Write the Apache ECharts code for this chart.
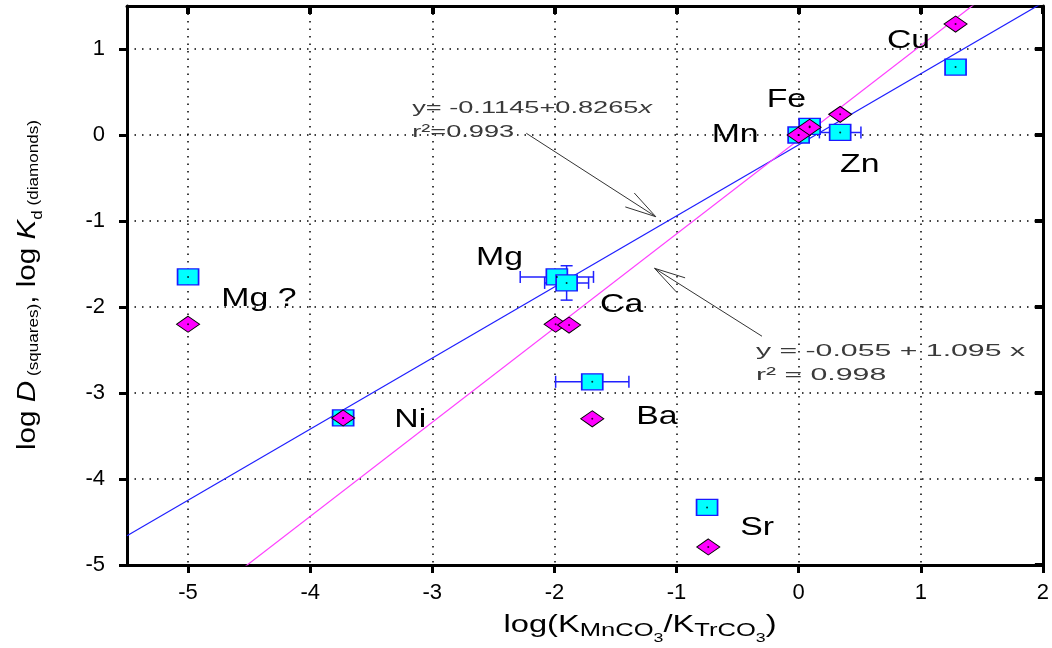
<!DOCTYPE html>
<html>
<head>
<meta charset="utf-8">
<script src="https://cdn.jsdelivr.net/npm/echarts@6/dist/echarts.min.js"></script>
<style>
  html, body { margin: 0; padding: 0; background: #fff; }
  #chart { width: 1052px; height: 648px; }
</style>
</head>
<body>
<div id="chart"></div>
<script>
// Trace-element carbonate partitioning vs. solubility-product ratio
const elements = ['Mg ?', 'Ni', 'Mg', 'Ca', 'Ba', 'Sr', 'Mn', 'Fe', 'Zn', 'Cu'];

// squares: log D
const squareX = [-5.00, -3.73, -1.98, -1.90, -1.69, -0.75, 0.00, 0.09, 0.34, 1.285];
const squareY = [-1.65, -3.29, -1.65, -1.72, -2.87, -4.33, 0.00, 0.10, 0.03, 0.79];
const squareXErr = [0, 0, 0.30, 0.18, 0.30, 0, 0, 0, 0.17, 0];
const squareYErr = [0, 0, 0, 0.20, 0, 0, 0, 0, 0, 0];

// diamonds: log Kd
const diamondX = [-5.00, -3.73, -1.99, -1.88, -1.69, -0.74, 0.00, 0.09, 0.34, 1.285];
const diamondY = [-2.20, -3.29, -2.20, -2.21, -3.30, -4.79, 0.00, 0.09, 0.24, 1.29];

// regression lines y = a + b x (squares, diamonds)
const fitIntercept = [-0.1145, -0.055];
const fitSlope = [0.8265, 1.095];
const fitR2 = ['0.993', '0.998'];

// axis ticks
const xTicks = [-5, -4, -3, -2, -1, 0, 1, 2];
const yTicks = [-5, -4, -3, -2, -1, 0, 1];
const xRange = [-5.5, 2];
const yRange = [-5, 1.5];

// annotation anchors (data coordinates)
const labelX = [-4.42, -3.18, -2.45, -1.45, -1.16, -0.34, -0.52, -0.10, 0.50, 0.90];
const labelY = [-1.90, -3.31, -1.43, -1.98, -3.28, -4.57, 0.00, 0.41, -0.35, 1.10];
const arrowFrom = [[-2.23, 0.02], [-0.30, -2.34]];
const arrowTo = [[-1.17, -0.95], [-1.18, -1.55]];
const eqAnchor = [[-3.165, 0.174], [-0.35, -2.66]];

const FONT = '"Liberation Sans", Arial, sans-serif';
const TEXT = '#000';

const fitLines = fitIntercept.map((a, i) =>
  xRange.map(x => [x, a + fitSlope[i] * x]));

const squares = squareX.map((x, i) => [x, squareY[i]]);
const diamonds = diamondX.map((x, i) => [x, diamondY[i]]);
const errData = squareX.map((x, i) => [x, squareY[i], squareXErr[i], squareYErr[i]]);

const chart = echarts.init(document.getElementById('chart'), null, { renderer: 'canvas' });

const gridLine = { show: true, lineStyle: { color: '#000', width: 1.5, type: [1.5, 6] } };
const frameLine = { show: true, onZero: false, lineStyle: { color: '#000', width: 3 } };

// rich-text token: top-aligned, shifted down by `drop` px (used for subscripts)
const tok = (size, drop, extra) => Object.assign(
  { fontSize: size, verticalAlign: 'top', padding: [drop, 0, 0, 0], fontFamily: FONT, fill: TEXT, color: TEXT },
  extra || {});

const option = {
  animation: false,
  backgroundColor: '#fff',
  grid: { left: 127, right: 7, top: 6, bottom: 83 },
  xAxis: [
    {
      type: 'value', position: 'bottom', min: xRange[0], max: xRange[1],
      axisLine: frameLine,
      axisTick: { show: true, inside: false, length: 8, customValues: xTicks, lineStyle: { color: '#000', width: 3 } },
      axisLabel: { customValues: xTicks, color: TEXT, fontSize: 22, fontFamily: FONT, margin: 17 },
      splitLine: gridLine
    },
    {
      type: 'value', position: 'top', min: xRange[0], max: xRange[1],
      axisLine: frameLine,
      axisTick: { show: true, inside: true, length: 8, customValues: xTicks, lineStyle: { color: '#000', width: 4 } },
      axisLabel: { show: false },
      splitLine: { show: false }
    }
  ],
  yAxis: [
    {
      type: 'value', position: 'left', min: yRange[0], max: yRange[1],
      axisLine: frameLine,
      axisTick: { show: true, inside: false, length: 8, customValues: yTicks, lineStyle: { color: '#000', width: 3 } },
      axisLabel: { customValues: yTicks, color: TEXT, fontSize: 22, fontFamily: FONT, margin: 22 },
      splitLine: gridLine
    },
    {
      type: 'value', position: 'right', min: yRange[0], max: yRange[1],
      axisLine: frameLine,
      axisTick: { show: true, inside: true, length: 8, customValues: yTicks, lineStyle: { color: '#000', width: 4 } },
      axisLabel: { show: false },
      splitLine: { show: false }
    }
  ],
  graphic: [
    {
      // x-axis title
      type: 'text', x: 640, y: 614, scaleX: 1.42, silent: true,
      style: {
        text: '{m|log(K}{s|MnCO}{t|3}{m|/K}{s|TrCO}{t|3}{m|)}',
        align: 'center', verticalAlign: 'top',
        rich: { m: tok(23, 0), s: tok(18, 8), t: tok(12.5, 18) }
      }
    },
    {
      // y-axis title
      type: 'text', x: 15, y: 285, rotation: Math.PI / 2, scaleX: 1.14, silent: true,
      style: {
        text: '{m|log }{i|D}{s| (squares)}{m|, log }{i|K}{d|d}{s| (diamonds)}',
        align: 'center', verticalAlign: 'top',
        rich: {
          m: tok(26, 0), i: tok(26, 0, { fontStyle: 'italic' }),
          s: tok(15, 11), d: tok(15, 15)
        }
      }
    }
  ],
  series: [
    {
      name: 'fit D', type: 'line', data: fitLines[0], symbol: 'none', silent: true, clip: true,
      lineStyle: { color: '#1f1fff', width: 1.2 }, z: 2
    },
    {
      name: 'fit Kd', type: 'line', data: fitLines[1], symbol: 'none', silent: true, clip: true,
      lineStyle: { color: '#ff40ff', width: 1.2 }, z: 2
    },
    {
      name: 'error bars', type: 'custom', data: errData, silent: true, z: 3,
      encode: { x: 0, y: 1 },
      renderItem(params, api) {
        const x = api.value(0), y = api.value(1), ex = api.value(2), ey = api.value(3);
        const children = [];
        const st = { stroke: '#2020ff', lineWidth: 1.5 };
        const cap = 6;
        if (ex > 0) {
          const l = api.coord([x - ex, y]), r = api.coord([x + ex, y]);
          children.push({ type: 'line', shape: { x1: l[0], y1: l[1], x2: r[0], y2: r[1] }, style: st });
          children.push({ type: 'line', shape: { x1: l[0], y1: l[1] - cap, x2: l[0], y2: l[1] + cap }, style: st });
          children.push({ type: 'line', shape: { x1: r[0], y1: r[1] - cap, x2: r[0], y2: r[1] + cap }, style: st });
        }
        if (ey > 0) {
          const t = api.coord([x, y + ey]), b = api.coord([x, y - ey]);
          children.push({ type: 'line', shape: { x1: t[0], y1: t[1], x2: b[0], y2: b[1] }, style: st });
          children.push({ type: 'line', shape: { x1: t[0] - cap, y1: t[1], x2: t[0] + cap, y2: t[1] }, style: st });
          children.push({ type: 'line', shape: { x1: b[0] - cap, y1: b[1], x2: b[0] + cap, y2: b[1] }, style: st });
        }
        return { type: 'group', children };
      }
    },
    {
      name: 'log D', type: 'scatter', data: squares, symbol: 'rect', symbolSize: [21, 16], z: 4,
      itemStyle: { color: '#00ffff', borderColor: '#1a1aff', borderWidth: 1.5, opacity: 1 },
      emphasis: { disabled: true }
    },
    {
      name: 'log Kd', type: 'scatter', data: diamonds, symbol: 'diamond', symbolSize: [23, 16], z: 5,
      itemStyle: { color: '#ff00ff', borderColor: '#000', borderWidth: 1, opacity: 1 },
      emphasis: { disabled: true }
    },
    {
      name: 'centres', type: 'scatter', data: squares.concat(diamonds), symbol: 'circle', symbolSize: 2, z: 6,
      itemStyle: { color: '#000' }, silent: true, emphasis: { disabled: true }
    },
    {
      name: 'element labels', type: 'custom', silent: true, z: 7,
      data: labelX.map((x, i) => [x, labelY[i]]),
      encode: { x: 0, y: 1 },
      renderItem(params, api) {
        const p = api.coord([api.value(0), api.value(1)]);
        return {
          type: 'text', x: p[0], y: p[1], scaleX: 1.3,
          style: {
            text: elements[params.dataIndex], fill: TEXT,
            font: '26px ' + FONT, align: 'center', verticalAlign: 'middle'
          }
        };
      }
    },
    {
      name: 'arrows', type: 'custom', silent: true, z: 7,
      data: arrowFrom.map((f, i) => [f[0], f[1], arrowTo[i][0], arrowTo[i][1]]),
      encode: { x: [0, 2], y: [1, 3] },
      renderItem(params, api) {
        const a = api.coord([api.value(0), api.value(1)]);
        const b = api.coord([api.value(2), api.value(3)]);
        const ang = Math.atan2(a[1] - b[1], a[0] - b[0]);
        const len = 32, spread = 15 * Math.PI / 180;
        const st = { stroke: '#333', lineWidth: 1 };
        const head = s => ({
          type: 'line',
          shape: { x1: b[0], y1: b[1], x2: b[0] + len * Math.cos(ang + s), y2: b[1] + len * Math.sin(ang + s) },
          style: st
        });
        return {
          type: 'group',
          children: [
            { type: 'line', shape: { x1: a[0], y1: a[1], x2: b[0], y2: b[1] }, style: st },
            head(spread), head(-spread)
          ]
        };
      }
    },
    {
      name: 'equations', type: 'custom', silent: true, z: 7,
      data: eqAnchor,
      encode: { x: 0, y: 1 },
      renderItem(params, api) {
        const p = api.coord([api.value(0), api.value(1)]);
        const i = params.dataIndex;
        const a = fitIntercept[i], b = fitSlope[i];
        const text = i === 0
          ? '{n|y= ' + a + '+' + b + '}{x|x}\n{n|r\u00b2=' + fitR2[i] + '}'
          : '{n|y = ' + a + ' + ' + b + ' x}\n{n|r\u00b2 = ' + fitR2[i] + '}';
        return {
          type: 'text', x: p[0], y: p[1], scaleX: i === 0 ? 1.6 : 1.78,
          style: {
            text, align: 'left', verticalAlign: 'middle',
            rich: {
              n: { fontSize: 17, fontFamily: FONT, fill: '#3a3a3a', lineHeight: 24 },
              x: { fontSize: 17, fontFamily: FONT, fontStyle: 'italic', fill: '#3a3a3a', lineHeight: 24 }
            }
          }
        };
      }
    }
  ]
};

chart.setOption(option);
</script>
</body>
</html>
